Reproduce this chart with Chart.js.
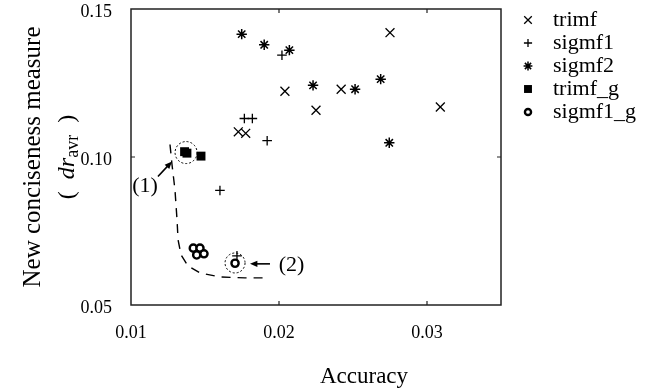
<!DOCTYPE html>
<html>
<head>
<meta charset="utf-8">
<title>Accuracy vs conciseness</title>
<script src="https://cdn.jsdelivr.net/npm/chart.js@4.4.1/dist/chart.umd.min.js"></script>
<style>
  html, body { margin: 0; padding: 0; background: #fff; }
  #wrap { width: 646px; height: 392px; }
</style>
</head>
<body>
<div id="wrap"><canvas id="chart" width="646" height="392"></canvas></div>
<script>
// values: [accuracy, dr_avr]
const trimf = [[0.0275, 0.1420], [0.0204, 0.1222], [0.0242, 0.1229], [0.0225, 0.1158],
               [0.0309, 0.1169], [0.01725, 0.1085], [0.01775, 0.1080]];
const sigmf1 = [[0.0202, 0.1344], [0.01766, 0.1130], [0.0182, 0.1130], [0.0192, 0.1055],
                [0.01601, 0.0887], [0.01716, 0.0666]];
const sigmf2 = [[0.01748, 0.1415], [0.0190, 0.1379], [0.0207, 0.1361], [0.0223, 0.1242],
                [0.02514, 0.1229], [0.02687, 0.1263], [0.02745, 0.1048]];
const trimfG = [[0.01362, 0.1018], [0.01378, 0.1013], [0.01473, 0.1003]];
const sigmf1G = [[0.01421, 0.0692], [0.01466, 0.0692], [0.01444, 0.0669], [0.01493, 0.0673],
                 [0.01703, 0.0641]];

const seriesNames = ['trimf', 'sigmf1', 'sigmf2', 'trimf_g', 'sigmf1_g'];
const xTicks = [0.01, 0.02, 0.03];
const yTicks = [0.05, 0.10, 0.15];

// annotation: dashed rings, the dashed trail and the two callouts
const ringCentres = [[0.01372, 0.1015], [0.01703, 0.0642]];
const trailPath = [[0.012635, 0.10424], [0.01277, 0.09746], [0.01297, 0.08898], [0.01311, 0.07881],
                   [0.01318, 0.07203], [0.01338, 0.06695], [0.01385, 0.06322], [0.01466, 0.06085],
                   [0.01601, 0.05949], [0.0177, 0.05915], [0.01926, 0.05915]];
const calloutLabels = ['(1)', '(2)'];
const calloutText = [[0.01095, 0.0900], [0.02085, 0.0636]];
const calloutArrows = [[[0.01182, 0.0934], [0.01277, 0.0985]], [[0.01939, 0.0639], [0.01804, 0.0639]]];

const FONT = '"Liberation Serif", "Times New Roman", serif';

const toPoints = arr => arr.map(p => ({ x: p[0], y: p[1] }));

const markerStyles = [
  { pointStyle: 'crossRot', pointRadius: 6.3, pointBorderWidth: 1.3, pointBackgroundColor: '#000', pointBorderColor: '#000' },
  { pointStyle: 'cross', pointRadius: 4.8, pointBorderWidth: 1.3, pointBackgroundColor: '#000', pointBorderColor: '#000' },
  { pointStyle: 'star', pointRadius: 5.2, pointBorderWidth: 1.5, pointBackgroundColor: '#000', pointBorderColor: '#000' },
  { pointStyle: 'rect', pointRadius: 6.3, pointBorderWidth: 0, pointBackgroundColor: '#000', pointBorderColor: '#000' },
  { pointStyle: 'circle', pointRadius: 3.6, pointBorderWidth: 2.4, pointBackgroundColor: '#fff', pointBorderColor: '#000' }
];

const allSeries = [trimf, sigmf1, sigmf2, trimfG, sigmf1G];
const datasets = allSeries.map((s, i) => Object.assign({
  label: seriesNames[i],
  data: toPoints(s),
  showLine: false
}, markerStyles[i]));

// box frame plus inward ticks on all four sides
const framePlugin = {
  id: 'frame',
  afterDraw(chart) {
    const { ctx, chartArea: a, scales } = chart;
    ctx.save();
    ctx.strokeStyle = '#222';
    ctx.lineWidth = 1.5;
    ctx.strokeRect(a.left, a.top, a.right - a.left, a.bottom - a.top);
    ctx.lineWidth = 1.2;
    ctx.beginPath();
    xTicks.forEach(v => {
      const px = scales.x.getPixelForValue(v);
      if (px <= a.left + 1 || px >= a.right - 1) return;
      ctx.moveTo(px, a.bottom); ctx.lineTo(px, a.bottom - 4);
      ctx.moveTo(px, a.top); ctx.lineTo(px, a.top + 4);
    });
    yTicks.forEach(v => {
      const py = scales.y.getPixelForValue(v);
      if (py <= a.top + 1 || py >= a.bottom - 1) return;
      ctx.moveTo(a.left, py); ctx.lineTo(a.left + 4, py);
      ctx.moveTo(a.right, py); ctx.lineTo(a.right - 4, py);
    });
    ctx.stroke();
    ctx.restore();
  }
};

function drawArrow(ctx, x1, y1, x2, y2) {
  const ang = Math.atan2(y2 - y1, x2 - x1);
  const head = 8;
  ctx.beginPath();
  ctx.moveTo(x1, y1);
  ctx.lineTo(x2 - Math.cos(ang) * head * 0.8, y2 - Math.sin(ang) * head * 0.8);
  ctx.stroke();
  ctx.beginPath();
  ctx.moveTo(x2, y2);
  ctx.lineTo(x2 - head * Math.cos(ang - 0.4), y2 - head * Math.sin(ang - 0.4));
  ctx.lineTo(x2 - head * Math.cos(ang + 0.4), y2 - head * Math.sin(ang + 0.4));
  ctx.closePath();
  ctx.fill();
}

const notesPlugin = {
  id: 'notes',
  beforeDatasetsDraw(chart) {
    const { ctx, scales } = chart;
    const X = v => scales.x.getPixelForValue(v);
    const Y = v => scales.y.getPixelForValue(v);
    ctx.save();
    ctx.strokeStyle = '#000';
    ctx.lineWidth = 1.4;
    ctx.setLineDash([9, 7]);
    ctx.beginPath();
    trailPath.forEach((p, i) => {
      if (i === 0) ctx.moveTo(X(p[0]), Y(p[1]));
      else ctx.lineTo(X(p[0]), Y(p[1]));
    });
    ctx.stroke();
    ctx.restore();
  },
  afterDatasetsDraw(chart) {
    const { ctx, scales } = chart;
    const X = v => scales.x.getPixelForValue(v);
    const Y = v => scales.y.getPixelForValue(v);
    ctx.save();
    ctx.strokeStyle = '#000';
    ctx.fillStyle = '#000';
    // dotted rings
    ctx.lineWidth = 1;
    ctx.setLineDash([2, 2]);
    ringCentres.forEach((c, i) => {
      ctx.beginPath();
      ctx.arc(X(c[0]), Y(c[1]), i === 0 ? 11 : 10, 0, Math.PI * 2);
      ctx.stroke();
    });
    ctx.setLineDash([]);
    ctx.lineWidth = 1.6;
    calloutArrows.forEach(a => drawArrow(ctx, X(a[0][0]), Y(a[0][1]), X(a[1][0]), Y(a[1][1])));
    ctx.font = '22px ' + FONT;
    ctx.textAlign = 'center';
    ctx.textBaseline = 'middle';
    calloutLabels.forEach((t, i) => ctx.fillText(t, X(calloutText[i][0]), Y(calloutText[i][1])));
    ctx.restore();
  }
};

// legend to the right of the box, plus the axis titles
const sidePlugin = {
  id: 'side',
  afterDraw(chart) {
    const { ctx, chartArea: a } = chart;
    ctx.save();
    ctx.fillStyle = '#000';
    ctx.strokeStyle = '#000';
    ctx.textBaseline = 'middle';
    seriesNames.forEach((name, i) => {
      const y = 20 + i * 23;
      const st = markerStyles[i];
      ctx.fillStyle = st.pointBackgroundColor;
      ctx.strokeStyle = st.pointBorderColor;
      ctx.lineWidth = st.pointBorderWidth;
      Chart.helpers.drawPoint(ctx, {
        pointStyle: st.pointStyle,
        radius: st.pointStyle === 'rect' ? 5.6 : st.pointRadius * 0.85,
        borderWidth: st.pointBorderWidth,
        rotation: 0
      }, 528, y);
      ctx.fillStyle = '#000';
      ctx.font = '22px ' + FONT;
      ctx.textAlign = 'left';
      ctx.fillText(name, 553, y);
    });

    // x title
    ctx.font = '23px ' + FONT;
    ctx.textAlign = 'center';
    ctx.fillText('Accuracy', a.left + 233, 377);

    // y title, two lines, rotated
    const cy = (a.top + a.bottom) / 2;
    ctx.save();
    ctx.translate(33, cy);
    ctx.rotate(-Math.PI / 2);
    ctx.font = '25px ' + FONT;
    ctx.textAlign = 'center';
    ctx.fillText('New conciseness measure', 0, 0);
    ctx.restore();

    ctx.save();
    ctx.translate(68, cy);
    ctx.rotate(-Math.PI / 2);
    ctx.textAlign = 'left';
    const parts = [
      { t: '(  ', f: '24px ' + FONT, dy: 0 },
      { t: 'dr', f: 'italic 24px ' + FONT, dy: 0 },
      { t: 'avr', f: '18px ' + FONT, dy: 5 },
      { t: '  )', f: '24px ' + FONT, dy: 0 }
    ];
    let total = 0;
    parts.forEach(p => { ctx.font = p.f; p.w = ctx.measureText(p.t).width; total += p.w; });
    let x = -total / 2;
    parts.forEach(p => { ctx.font = p.f; ctx.fillText(p.t, x, p.dy); x += p.w; });
    ctx.restore();

    ctx.restore();
  }
};

new Chart(document.getElementById('chart').getContext('2d'), {
  type: 'scatter',
  data: { datasets: datasets },
  options: {
    responsive: false,
    animation: false,
    events: [],
    layout: { padding: { top: 9, right: 145, left: 0, bottom: 0 } },
    plugins: { legend: { display: false }, tooltip: { enabled: false } },
    scales: {
      x: {
        type: 'linear',
        min: 0.01,
        max: 0.035,
        afterBuildTicks: s => { s.ticks = xTicks.map(v => ({ value: v })); },
        afterFit: s => { s.height = 87; s.paddingLeft = 0; s.paddingRight = 0; },
        grid: { display: false, drawTicks: false, tickLength: 0 },
        border: { display: false },
        ticks: {
          color: '#000',
          font: { family: FONT, size: 18 },
          padding: 17,
          maxRotation: 0,
          autoSkip: false,
          callback: v => v.toFixed(2)
        }
      },
      y: {
        type: 'linear',
        min: 0.05,
        max: 0.15,
        afterBuildTicks: s => { s.ticks = yTicks.map(v => ({ value: v })); },
        afterFit: s => { s.width = 131; s.paddingTop = 0; s.paddingBottom = 0; },
        grid: { display: false, drawTicks: false, tickLength: 0 },
        border: { display: false },
        ticks: {
          color: '#000',
          font: { family: FONT, size: 18 },
          padding: 19,
          labelOffset: 3,
          autoSkip: false,
          callback: v => v.toFixed(2)
        }
      }
    }
  },
  plugins: [notesPlugin, framePlugin, sidePlugin]
});
</script>
</body>
</html>
